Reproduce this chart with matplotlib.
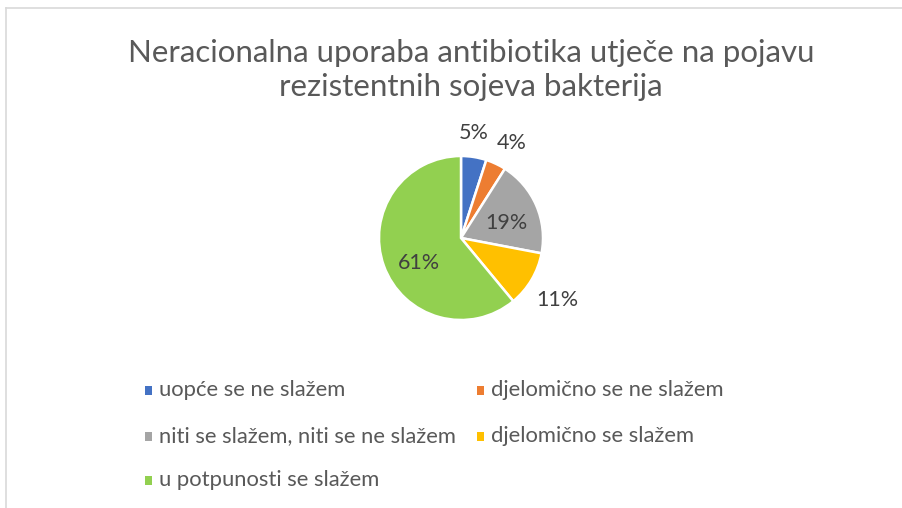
import numpy as np
import matplotlib.pyplot as plt
from matplotlib.patches import Rectangle

# Odgovori na tvrdnju o neracionalnoj uporabi antibiotika
categories = [
    "uopće se ne slažem",
    "djelomično se ne slažem",
    "niti se slažem, niti se ne slažem",
    "djelomično se slažem",
    "u potpunosti se slažem",
]
shares = [5, 4, 19, 11, 61]
colors = ["#4472C4", "#ED7D31", "#A5A5A5", "#FFC000", "#92D050"]

# položaj oznaka: udaljenost od središta i pomak kuta od sredine isječka
label_r = [1.29, 1.31, 0.58, 1.40, 0.60]
label_dang = [2, -3, -5, -2, 11]

title = "Neracionalna uporaba antibiotika utječe na pojavu\nrezistentnih sojeva bakterija"
text_color = "#595959"
font = "Lato"

W, H = 902, 508
fig = plt.figure(figsize=(W / 100, H / 100), dpi=100)
fig.patch.set_facecolor("white")

# tanki okvir grafikona (gore i lijevo)
fig.add_artist(plt.Line2D([6 / W, 1], [1 - 8 / H, 1 - 8 / H], color="#D9D9D9", lw=1.2))
fig.add_artist(plt.Line2D([6 / W, 6 / W], [0, 1 - 8 / H], color="#D9D9D9", lw=1.2))

fig.text(471 / W, 1 - 70 / H, title, ha="center", va="center", fontsize=22.5,
         color=text_color, family=font, linespacing=1.3)

# pita: središte i polumjer u pikselima
cx, cy, R = 461, 238, 82
ax = fig.add_axes([(cx - 1.5 * R) / W, 1 - (cy + 1.5 * R) / H, 3 * R / W, 3 * R / H])
wedges, _ = ax.pie(shares, colors=colors, startangle=90, counterclock=False,
                   radius=1, wedgeprops=dict(edgecolor="white", linewidth=1.8))
ax.set_xlim(-1.5, 1.5)
ax.set_ylim(-1.5, 1.5)
ax.set_aspect("equal")
ax.axis("off")

for w, val, r, da in zip(wedges, shares, label_r, label_dang):
    ang = np.deg2rad((w.theta1 + w.theta2) / 2 + da)
    ax.text(r * np.cos(ang), r * np.sin(ang), f"{val}%", ha="center", va="center",
            fontsize=15.5, color="#404040", family=font)

# legenda u dva stupca, popunjava se po redovima
col_x = [145, 477]
row_y = [390, 436, 480]
for i, (lab, c) in enumerate(zip(categories, colors)):
    x = col_x[i % 2]
    y = row_y[i // 2]
    fig.add_artist(Rectangle((x / W, 1 - (y + 5) / H), 7 / W, 9 / H,
                             transform=fig.transFigure, facecolor=c, edgecolor="none"))
    fig.text((x + 14) / W, 1 - y / H, lab, ha="left", va="center", fontsize=15.8,
             color=text_color, family=font)

fig.savefig("out.png", dpi=100, facecolor="white")
